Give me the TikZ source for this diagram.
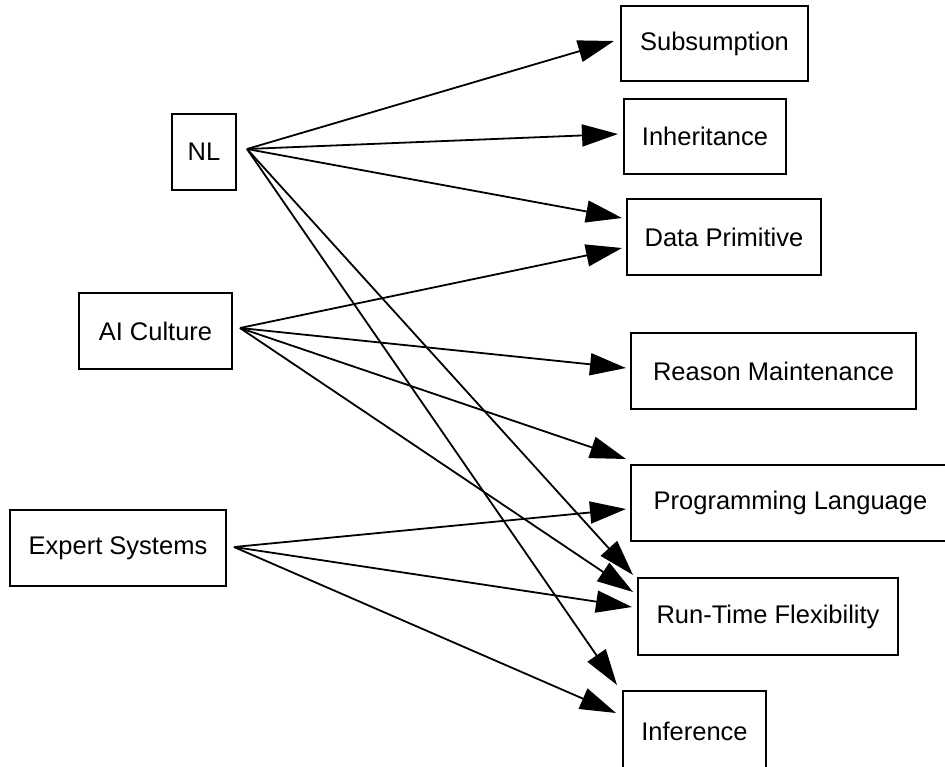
\documentclass[tikz,border=0pt]{standalone}
\usepackage{fontspec}
\setmainfont{Liberation Sans}
\usetikzlibrary{arrows.meta}
\begin{document}
\begin{tikzpicture}[x=1pt,y=-1pt,
  box/.style={draw,line width=1.4pt,inner sep=0pt,font=\fontsize{25.5}{30}\selectfont},
  conn/.style={line width=1.8pt,-{Triangle[length=36pt,width=22pt]}}]
\useasboundingbox (0,0) rectangle (945,766);
\clip (0,0) rectangle (945,766);
\fill[white] (0,0) rectangle (945,766);
% left nodes
\node[box,minimum width=64pt,minimum height=76pt] (nl) at (204,152) {NL};
\node[box,minimum width=153pt,minimum height=76pt] (ai) at (155.5,331) {AI Culture};
\node[box,minimum width=216pt,minimum height=76pt] (es) at (118,548) {Expert Systems};
% right nodes
\node[box,minimum width=187pt,minimum height=75pt] (sub) at (714.5,43.5) {Subsumption};
\node[box,minimum width=162pt,minimum height=75pt] (inh) at (705,136.5) {Inheritance};
\node[box,minimum width=194pt,minimum height=76pt] (dp) at (724,237) {Data Primitive};
\node[box,minimum width=285pt,minimum height=76pt] (rm) at (773.5,371) {Reason Maintenance};
\node[box,minimum width=319pt,minimum height=76pt] (pl) at (790.5,503) {Programming Language};
\node[box,minimum width=260pt,minimum height=77pt] (rtf) at (768,616.5) {Run-Time Flexibility};
\node[box,minimum width=143pt,minimum height=80pt] (inf) at (694.5,731) {Inference};
% connector origins
\coordinate (nlo) at (247,149);
\coordinate (aio) at (240,328);
\coordinate (eso) at (234,547);
% connector tips
\coordinate (subT) at (614,41);
\coordinate (inhT) at (618,134);
\coordinate (dpT1) at (622,218);
\coordinate (dpT2) at (622,248);
\coordinate (rmT) at (626,368);
\coordinate (plT1) at (626,459);
\coordinate (plT2) at (626,509);
\coordinate (rtfT1) at (633,575);
\coordinate (rtfT2) at (633,592);
\coordinate (rtfT3) at (632,607);
\coordinate (infT1) at (617,685);
\coordinate (infT2) at (616,713);
% NL
\draw[conn] (nlo) -- (subT);
\draw[conn] (nlo) -- (inhT);
\draw[conn] (nlo) -- (dpT1);
\draw[conn] (nlo) -- (rtfT1);
\draw[conn] (nlo) -- (infT1);
% AI Culture
\draw[conn] (aio) -- (dpT2);
\draw[conn] (aio) -- (rmT);
\draw[conn] (aio) -- (plT1);
\draw[conn] (aio) -- (rtfT2);
% Expert Systems
\draw[conn] (eso) -- (plT2);
\draw[conn] (eso) -- (rtfT3);
\draw[conn] (eso) -- (infT2);
\end{tikzpicture}
\end{document}
